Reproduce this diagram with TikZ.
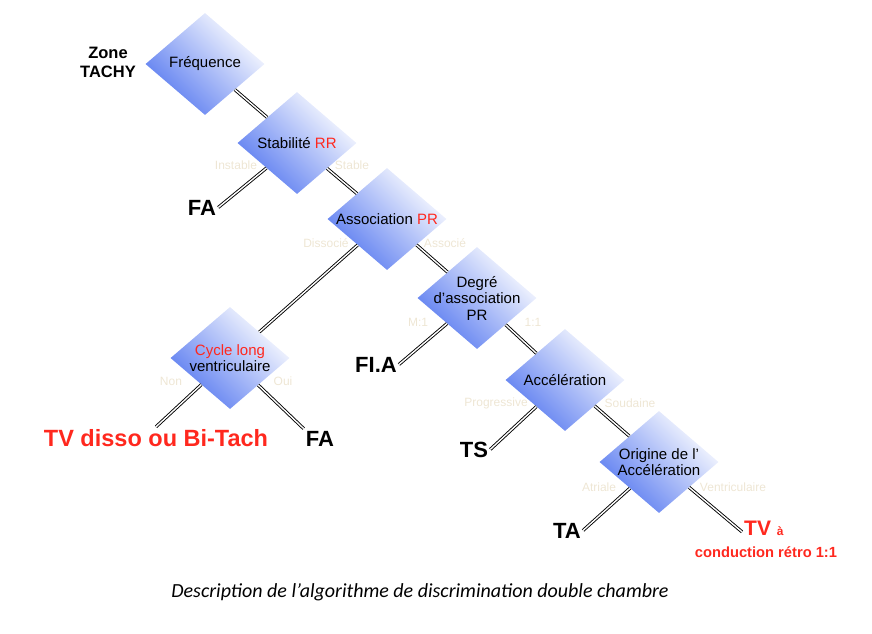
\documentclass[tikz,border=0pt]{standalone}
\usepackage{fontspec}
\setmainfont{Liberation Sans}
\newfontfamily\capfont{Carlito}
\usetikzlibrary{shapes.geometric}
\definecolor{algoBlue}{RGB}{88,122,240}
\definecolor{algoRed}{RGB}{255,40,30}
\definecolor{algoPale}{RGB}{238,230,212}

\begin{document}
\begin{tikzpicture}[x=1pt,y=-1pt,test/.style={diamond,aspect=1.17,minimum width=119pt,minimum height=102pt,inner sep=0pt,top color=white,bottom color=algoBlue,shading angle=-45},testtext/.style={align=center,inner sep=0pt,font=\fontsize{15}{16.5}\selectfont},branch/.style={draw=black,line width=0.9pt,double=white,double distance=1.4pt},outcome/.style={font=\bfseries\fontsize{22}{22}\selectfont,anchor=base,inner sep=2pt},answer/.style={text=algoPale,font=\fontsize{12}{13}\selectfont}]
\useasboundingbox (0,0) rectangle (872,633);
\node[test,label={[testtext]center:Fréquence}] (freq) at (205,64) {};
\node[test,label={[testtext]center:Stabilité \textcolor{algoRed}{RR}}] (stab) at (297,143) {};
\node[test,label={[testtext]center:Association \textcolor{algoRed}{PR}}] (assoc) at (387,219) {};
\node[test,label={[testtext]center:Degré\\d’association\\PR}] (degre) at (477,298) {};
\node[test,label={[testtext]center:Accélération}] (accel) at (565,380) {};
\node[test,label={[testtext]center:Origine de l’\\Accélération}] (orig) at (659,462) {};
\node[test,label={[testtext]center:\textcolor{algoRed}{Cycle long}\\ventriculaire}] (cycle) at (230,358) {};
% issues
\node[font=\bfseries\fontsize{16.5}{19}\selectfont,align=center] (zone) at (108,62) {Zone\\TACHY};
\node[outcome] (fa) at (202,215) {FA};
\node[outcome] (fia) at (376,372) {FI.A};
\node[outcome] (ts) at (474,457) {TS};
\node[outcome] (ta) at (567,538) {TA};
\node[outcome,text=algoRed,font=\bfseries\fontsize{23.5}{23.5}\selectfont] (tvdisso) at (156,446) {TV disso ou Bi-Tach};
\node[outcome] (fab) at (320,446) {FA};
\node[outcome,anchor=base west,text=algoRed,font=\bfseries\fontsize{21}{21}\selectfont] (tv) at (742,535) {TV {\fontsize{12}{12}\selectfont à}};
\node[text=algoRed,font=\bfseries\fontsize{14.7}{14.7}\selectfont,anchor=base] (retro) at (766,557) {conduction rétro 1:1};
% reponses
\node[answer] (instable) at (236,165) {Instable};
\node[answer] (stable) at (352,165) {Stable};
\node[answer] (dissocie) at (326,243) {Dissocié};
\node[answer] (associe) at (445,243) {Associé};
\node[answer] (mun) at (418,322) {M:1};
\node[answer] (unun) at (533,322) {1:1};
\node[answer] (non) at (171,381) {Non};
\node[answer] (oui) at (283,381) {Oui};
\node[answer] (progressive) at (496,403) {Progressive};
\node[answer] (soudaine) at (630,403) {Soudaine};
\node[answer] (atriale) at (599,487) {Atriale};
\node[answer] (ventric) at (733,487) {Ventriculaire};
\draw[branch] (freq) -- (stab);
\draw[branch] (stab) -- (fa.east);
\draw[branch] (stab) -- (assoc);
\draw[branch] (assoc) -- (cycle);
\draw[branch] (assoc) -- (degre);
\draw[branch] (degre) -- (fia.east);
\draw[branch] (degre) -- (accel);
\draw[branch] (accel) -- (ts.east);
\draw[branch] (accel) -- (orig);
\draw[branch] (orig) -- (ta.east);
\draw[branch] (orig) -- ([yshift=-4pt]tv.west);
\draw[branch] (cycle) -- (tvdisso.north);
\draw[branch] (cycle) -- (fab.north west);
\node[font=\capfont\itshape\fontsize{20}{24}\selectfont,anchor=base] (caption) at (420,597) {Description de l’algorithme de discrimination double chambre};
\end{tikzpicture}
\end{document}
